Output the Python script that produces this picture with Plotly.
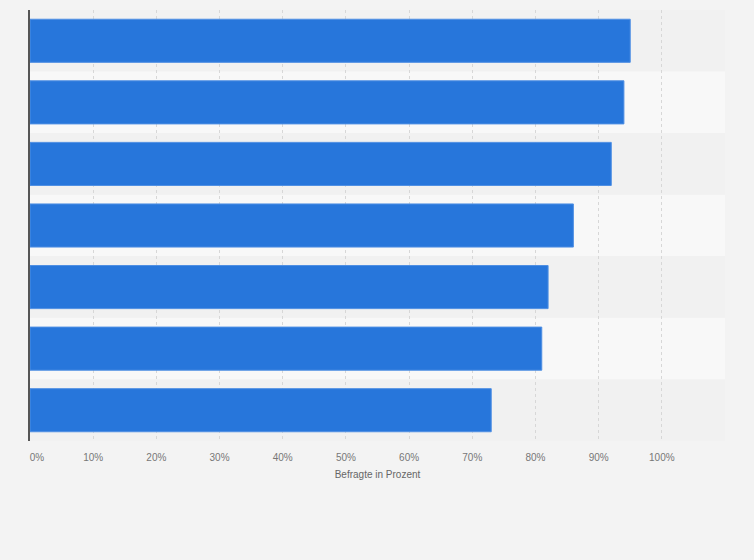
import plotly.graph_objects as go

categories = ["Kategorie 1", "Kategorie 2", "Kategorie 3", "Kategorie 4",
              "Kategorie 5", "Kategorie 6", "Kategorie 7"]
values = [95, 94, 92, 86, 82, 81, 73]
tick_values = [0, 10, 20, 30, 40, 50, 60, 70, 80, 90, 100, 110]
tick_labels = ["\u00a0\u00a0\u00a0\u00a0\u00a00%", "10%", "20%", "30%", "40%", "50%",
               "60%", "70%", "80%", "90%", "100%", ""]

fig = go.Figure()
fig.add_trace(go.Bar(
    x=values,
    y=categories,
    orientation="h",
    marker=dict(color="#2776db", line=dict(color="#4f8fe3", width=1)),
    hoverinfo="x",
))

# alternating row bands
for i, _ in enumerate(categories):
    fig.add_shape(
        type="rect", xref="x domain", yref="y",
        x0=0, x1=1, y0=i - 0.5, y1=i + 0.5,
        fillcolor="#f1f1f1" if i % 2 == 0 else "#f8f8f8",
        line=dict(width=0), layer="below",
    )

fig.update_layout(
    width=754, height=560,
    margin=dict(l=30, r=29, t=10, b=119),
    paper_bgcolor="#f3f3f3", plot_bgcolor="#f3f3f3",
    bargap=0.3, showlegend=False,
    font=dict(family="Liberation Sans, Arial, sans-serif", color="#666666"),
)
fig.update_xaxes(
    range=[0, 110], tickvals=tick_values, ticktext=tick_labels,
    showgrid=True, gridcolor="#d7d7d7", griddash="dot", gridwidth=1,
    zeroline=False, showline=False, ticks="", ticklabelstandoff=9,
    tickfont=dict(size=10, color="#777777"),
    title=dict(text="Befragte in Prozent", font=dict(size=10, color="#666666"), standoff=8),
)
fig.update_yaxes(
    autorange="reversed", showticklabels=False, ticks="",
    showgrid=False, zeroline=False,
    showline=True, linecolor="#555555", linewidth=1.5,
)

fig.write_html(
    "out.html",
    config={"displayModeBar": False},
    post_script="document.body.style.margin='0';document.body.style.background='#f3f3f3';",
)
